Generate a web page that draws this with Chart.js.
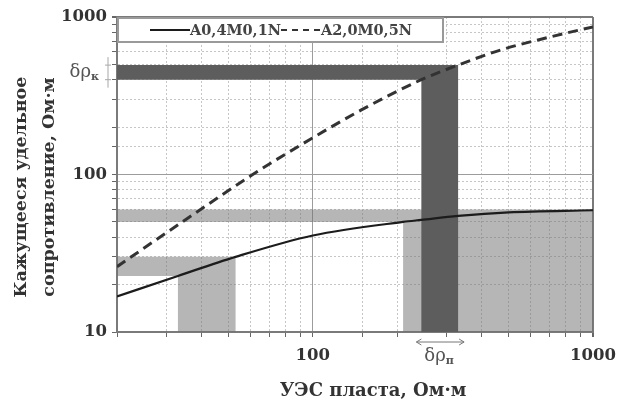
<!DOCTYPE html>
<html lang="ru">
<head>
<meta charset="UTF-8">
<title>Кажущееся удельное сопротивление</title>
<script src="https://cdn.jsdelivr.net/npm/chart.js"></script>
<style>
    body { margin: 0; background: #fff; }
    .wrap { width: 629px; height: 401px; }
</style>
</head>
<body>
<div class="wrap"><canvas id="chart"></canvas></div>
<script>
const seriesNames = ["A0,4M0,1N", "A2,0M0,5N"];

// solid curve A0,4M0,1N
const solidX = [20, 33, 53, 100, 210, 244, 330, 500, 1000];
const solidY = [16.8, 22.7, 30, 41, 50, 51.5, 54.6, 57.5, 59.3];

// dashed curve A2,0M0,5N
const dashX = [20, 37, 61, 100, 149, 244, 330, 468, 703, 1000];
const dashY = [26, 55, 100, 171, 257, 400, 495, 617, 747, 865];

// shaded zones (outline corners, Ом·м)
const lightBigX = [20, 1000, 1000, 210, 210, 20];
const lightBigY = [60, 60, 10, 10, 50, 50];
const lightSmallX = [20, 53, 53, 33, 33, 20];
const lightSmallY = [30, 30, 10, 10, 22.7, 22.7];
const darkX = [20, 330, 330, 244, 244, 20];
const darkY = [495, 495, 10, 10, 400, 400];

const xMin = 20, xMax = 1000;
const yMin = 10, yMax = 1000;

const serif = "'DejaVu Serif', serif";
Chart.defaults.font.family = serif;

function pts(xs, ys) {
    return xs.map((v, i) => ({ x: v, y: ys[i] }));
}

function isDecade(v) {
    const l = Math.log10(v);
    return Math.abs(l - Math.round(l)) < 1e-9;
}

function gridColor(c, max) {
    const v = c.tick.value;
    if (v === max) return "#7a7a7a";
    return isDecade(v) ? "#9c9c9c" : "#c6c6c6";
}

function zone(data, color, order) {
    return {
        label: "",
        data: data,
        backgroundColor: color,
        borderColor: "rgba(0,0,0,0)",
        borderWidth: 0,
        pointRadius: 0,
        tension: 0,
        fill: "shape",
        order: order
    };
}

function arrowHead(ctx, x, y, dx, dy) {
    ctx.beginPath();
    ctx.moveTo(x, y);
    ctx.lineTo(x - dx * 5 - dy * 3, y - dy * 5 - dx * 3);
    ctx.moveTo(x, y);
    ctx.lineTo(x - dx * 5 + dy * 3, y - dy * 5 + dx * 3);
    ctx.stroke();
}

const extras = {
    id: "extras",
    afterDraw(chart) {
        const { ctx, chartArea: a, scales: { x, y } } = chart;
        ctx.save();

        // legend box inside the plot
        ctx.fillStyle = "#fff";
        ctx.fillRect(a.left + 1, a.top + 1, 325, 24);
        ctx.strokeStyle = "#9a9a9a";
        ctx.lineWidth = 2;
        ctx.strokeRect(a.left + 1, a.top + 1, 325, 24);

        const ly = a.top + 13;
        let lx = a.left + 33;
        ctx.font = "bold 14.5px " + serif;
        ctx.textBaseline = "middle";
        ctx.fillStyle = "#444";
        const ds = chart.data.datasets;
        [0, 1].forEach(i => {
            ctx.strokeStyle = ds[i].borderColor;
            ctx.lineWidth = 2;
            ctx.setLineDash(i === 0 ? [] : [6, 5]);
            ctx.beginPath();
            ctx.moveTo(lx, ly);
            ctx.lineTo(lx + 40, ly);
            ctx.stroke();
            ctx.setLineDash([]);
            lx += 40;
            ctx.fillText(ds[i].label, lx, ly + 1);
            lx += ctx.measureText(ds[i].label).width;
        });

        // axis titles
        ctx.fillStyle = "#333";
        ctx.font = "bold 18px " + serif;
        ctx.textAlign = "center";
        ctx.fillText("УЭС пласта, Ом·м", 373, 391);

        ctx.save();
        ctx.translate(21, 187);
        ctx.rotate(-Math.PI / 2);
        ctx.font = "bold 17.5px " + serif;
        ctx.fillText("Кажущееся удельное", 0, 0);
        ctx.fillText("сопротивление, Ом·м", 0, 28);
        ctx.restore();

        // δρк marker at the dark horizontal band
        const yTop = y.getPixelForValue(darkY[0]);
        const yBot = y.getPixelForValue(darkY[4]);
        const mx = a.left - 9;
        ctx.strokeStyle = "#a8a8a8";
        ctx.lineWidth = 1;
        ctx.beginPath();
        ctx.moveTo(mx, yTop - 8);
        ctx.lineTo(mx, yBot + 8);
        ctx.moveTo(mx - 3, yTop);
        ctx.lineTo(mx + 3, yTop);
        ctx.moveTo(mx - 3, yBot);
        ctx.lineTo(mx + 3, yBot);
        ctx.stroke();
        ctx.fillStyle = "#555";
        ctx.textAlign = "right";
        ctx.font = "18px " + serif;
        ctx.fillText("δρ", mx - 17, (yTop + yBot) / 2);
        ctx.font = "bold 11px " + serif;
        ctx.textAlign = "left";
        ctx.fillText("к", mx - 17, (yTop + yBot) / 2 + 5);

        // δρп marker at the dark vertical band
        const xL = x.getPixelForValue(darkX[3]);
        const xR = x.getPixelForValue(darkX[1]);
        const ay = a.bottom + 10;
        ctx.strokeStyle = "#777";
        ctx.beginPath();
        ctx.moveTo(xL - 5, ay);
        ctx.lineTo(xR + 6, ay);
        ctx.stroke();
        arrowHead(ctx, xL - 5, ay, -1, 0);
        arrowHead(ctx, xR + 6, ay, 1, 0);
        const cx = (xL + xR) / 2;
        ctx.textAlign = "right";
        ctx.font = "18px " + serif;
        ctx.fillText("δρ", cx + 6, ay + 14);
        ctx.textAlign = "left";
        ctx.font = "bold 11px " + serif;
        ctx.fillText("п", cx + 6, ay + 19);

        ctx.restore();
    }
};

new Chart(document.getElementById("chart"), {
    type: "line",
    data: {
        datasets: [
            {
                label: seriesNames[0],
                data: pts(solidX, solidY),
                borderColor: "#1c1c1c",
                borderWidth: 2.2,
                pointRadius: 0,
                cubicInterpolationMode: "monotone",
                fill: false,
                order: 0
            },
            {
                label: seriesNames[1],
                data: pts(dashX, dashY),
                borderColor: "#333",
                borderWidth: 3,
                borderDash: [10, 6],
                pointRadius: 0,
                cubicInterpolationMode: "monotone",
                fill: false,
                order: 0
            },
            zone(pts(darkX, darkY), "#5d5d5d", 2),
            zone(pts(lightBigX, lightBigY), "rgba(110,110,110,0.5)", 3),
            zone(pts(lightSmallX, lightSmallY), "rgba(110,110,110,0.5)", 3)
        ]
    },
    options: {
        responsive: true,
        maintainAspectRatio: false,
        animation: false,
        layout: { padding: { top: 17, right: 36, left: 0, bottom: 0 } },
        plugins: {
            legend: { display: false },
            tooltip: { enabled: false }
        },
        scales: {
            x: {
                type: "logarithmic",
                min: xMin,
                max: xMax,
                afterFit(s) { s.height = 69; },
                grid: {
                    color: c => gridColor(c, xMax),
                    lineWidth: c => c.tick.value === xMax ? 2 : 1,
                    tickLength: 5,
                    tickColor: "#666"
                },
                border: {
                    color: "#7a7a7a",
                    width: 2,
                    dash: c => (c.tick && !isDecade(c.tick.value)) ? [2, 2] : []
                },
                ticks: {
                    autoSkip: false,
                    maxRotation: 0,
                    padding: 9,
                    color: "#333",
                    font: { size: 16.5, weight: "bold" },
                    callback: v => (isDecade(v) ? String(v) : "")
                }
            },
            y: {
                type: "logarithmic",
                min: yMin,
                max: yMax,
                afterFit(s) { s.width = 117; },
                grid: {
                    color: c => gridColor(c, yMax),
                    lineWidth: c => c.tick.value === yMax ? 2 : 1,
                    tickLength: 5,
                    tickColor: "#666"
                },
                border: {
                    color: "#7a7a7a",
                    width: 2,
                    dash: c => (c.tick && !isDecade(c.tick.value)) ? [2, 2] : []
                },
                ticks: {
                    autoSkip: false,
                    padding: 5,
                    color: "#333",
                    font: { size: 16.5, weight: "bold" },
                    callback: v => (isDecade(v) ? String(v) : "")
                }
            }
        }
    },
    plugins: [extras]
});
</script>
</body>
</html>
